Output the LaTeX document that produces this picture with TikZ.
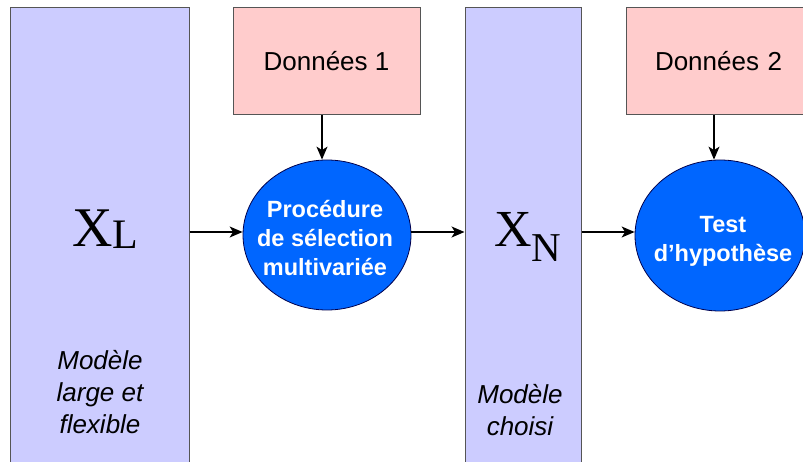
\documentclass[tikz,border=0pt]{standalone}
\usepackage{fontspec}
\setmainfont{Liberation Serif}
\setsansfont{Liberation Sans}
\usetikzlibrary{arrows.meta,shapes.geometric}
\definecolor{lav}{HTML}{CCCCFF}
\definecolor{pinkfill}{HTML}{FFCCCC}
\definecolor{bluefill}{HTML}{0066FF}
\definecolor{edgegray}{HTML}{555555}
\tikzset{
  modelbox/.style={draw=edgegray,line width=1pt,fill=lav,rectangle,inner sep=0pt},
  databox/.style={draw=edgegray,line width=1pt,fill=pinkfill,rectangle,inner sep=0pt,
    font=\sffamily\fontsize{26}{30}\selectfont},
  proc/.style={draw=black!70!blue,line width=0.8pt,fill=bluefill,ellipse,inner sep=0pt},
  proctext/.style={text=white,align=center,inner sep=0pt,
    font=\sffamily\bfseries\fontsize{23.5}{29}\selectfont},
  itext/.style={align=center,font=\sffamily\itshape\fontsize{26}{32}\selectfont,inner sep=0pt},
  arr/.style={line width=1.2pt,-{Stealth[length=13pt,width=11pt,inset=3.5pt]}}
}
\begin{document}
\begin{tikzpicture}[x=1pt,y=-1pt]
\useasboundingbox (0,0) rectangle (803,462);
\clip (0,0) rectangle (803,462);
% model boxes
\node[modelbox,minimum width=179pt,minimum height=470pt] (xl) at (99.5,243) {};
\node[modelbox,minimum width=116pt,minimum height=470pt] (xn) at (523,243) {};
% data boxes
\node[databox,minimum width=187pt,minimum height=107pt] (d1) at (326.5,61.5) {Données 1};
\node[databox,minimum width=187pt,minimum height=107pt,text width=187pt] (d2) at (719.5,61.5) {\hspace*{29pt}Données 2};
% processes
\node[proc,minimum width=168pt,minimum height=150pt] (e1) at (327,235) {};
\node[proc,minimum width=170pt,minimum height=151pt] (e2) at (720,235.5) {};
\node[proctext] (t1) at (325,238) {Procédure\\de sélection\\multivariée};
\node[proctext] (t2) at (723,241) {Test\\d’hypothèse};
% labels
\node[anchor=base west,inner sep=0pt] (tl) at (72,247) {\fontsize{56}{56}\selectfont X\raisebox{-2pt}{\fontsize{42}{42}\selectfont L}};
\node[anchor=base west,inner sep=0pt] (tn) at (494,247) {\fontsize{52}{52}\selectfont X\raisebox{-15pt}{\fontsize{41}{41}\selectfont N}};
\node[itext] (ml) at (100,392) {Modèle\\large et\\flexible};
\node[itext] (mn) at (520,410) {Modèle\\choisi};
% connectors
\coordinate (h) at (0,232);
\coordinate (v1) at (322,0);
\coordinate (v2) at (714,0);
\draw[arr] (xl.east |- h) -- (e1.west |- h);
\draw[arr] (e1.east |- h) -- (xn.west |- h);
\draw[arr] (xn.east |- h) -- (e2.west |- h);
\draw[arr] (d1.south -| v1) -- (e1.north -| v1);
\draw[arr] (d2.south -| v2) -- (e2.north -| v2);
\end{tikzpicture}
\end{document}
